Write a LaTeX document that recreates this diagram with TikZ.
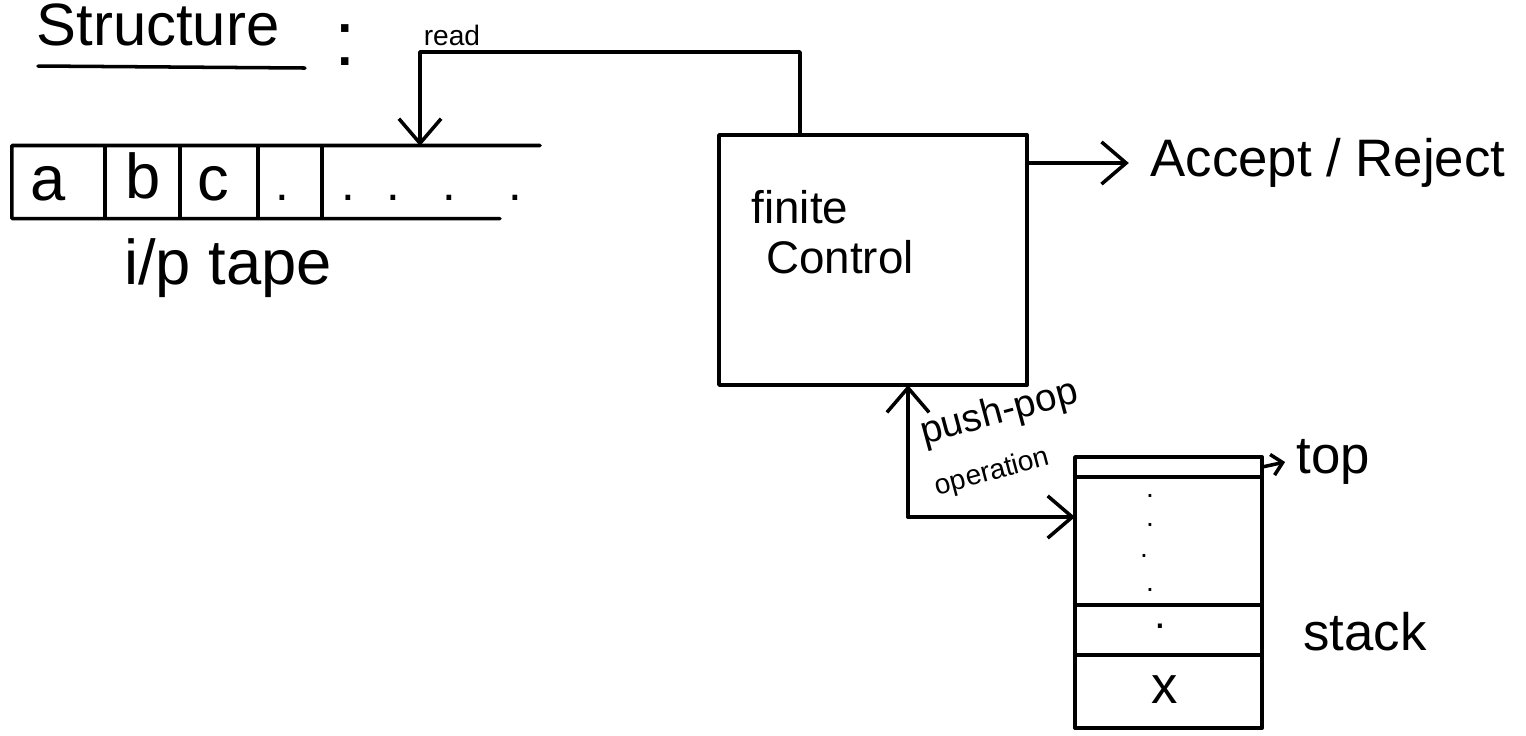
\documentclass[tikz,border=0pt]{standalone}
\usepackage{fontspec}
\setmainfont{Liberation Sans}
\usetikzlibrary{arrows.meta}
\tikzset{
  ln/.style={line width=1pt, line cap=round, line join=round},
  arr/.style={ln, -{Straight Barb[length=7pt,width=12pt,line width=1pt]}},
  sarr/.style={ln, -{Straight Barb[length=3pt,width=6pt,line width=1pt]}},
  box/.style={ln, draw, rectangle, inner sep=0pt, outer sep=0pt},
  lbl/.style={inner sep=0pt, font=\fontsize{#1}{#1}\selectfont},
  lbl/.default=14,
}
\begin{document}
\begin{tikzpicture}[x=0.01cm,y=-0.01cm]
\useasboundingbox (0,0) rectangle (1526,735);
% title
\node[lbl=17, anchor=base] (title) at (158,45) {Structure};
\node[lbl=22] (colon) at (345,45) {:};
\draw[ln] (38,66) -- (305,68);
% tape
\node[inner sep=0pt, outer sep=0pt, minimum width=5.28cm, minimum height=0.73cm] (tape) at (276,182) {};
\draw[ln] (tape.north east) -- (tape.north west) -- (tape.south west) -- (500,218.5);
\foreach \x in {105,180,258,322}{ \draw[ln] (\x,146) -- (\x,218); }
\node[lbl=18, anchor=base] (ca) at (48,200) {a};
\node[lbl=18, anchor=base] (cb) at (143,198) {b};
\node[lbl=18, anchor=base] (cc) at (213,200) {c};
\node[lbl=14, anchor=base] (cd) at (282,200) {.};
\node[lbl=14, anchor=base] (ce) at (432,200) {.\hspace{9pt}.\hspace{12pt}.\hspace{15pt}.};
\node[lbl=18] (tapelbl) at (228,268) {i/p tape};
\coordinate (readpt) at (420,146);
\node[lbl=8] (readlbl) at (452,35) {read};
% finite control
\node[box, minimum width=3.08cm, minimum height=2.5cm] (ctrl) at (873,260) {};
\node[lbl=13] (fin) at (800,207) {finite};
\node[lbl=13] (con) at (840,257) {Control};
\coordinate (rtop) at (800,52);
\draw[arr] (rtop |- ctrl.north) -- (rtop) -| (readpt);
% accept / reject
\node[lbl=15] (acc) at (1328,163) {Accept / Reject};
\draw[arr] (ctrl.east |- acc.west) -- ([xshift=-6pt]acc.west);
% stack
\node[box, minimum width=1.87cm, minimum height=0.2cm, anchor=north west] (s1) at (1075,457) {};
\node[box, minimum width=1.87cm, minimum height=1.28cm, anchor=north] (s2) at (s1.south) {};
\node[box, minimum width=1.87cm, minimum height=0.5cm, anchor=north] (s3) at (s2.south) {};
\node[box, minimum width=1.87cm, minimum height=0.73cm, anchor=north] (s4) at (s3.south) {};
\node[lbl=8] (d1) at (1150,496) {.};
\node[lbl=8] (d2) at (1150,525) {.};
\node[lbl=8] (d3) at (1144,556) {.};
\node[lbl=8] (d4) at (1150,590) {.};
\node[lbl=12] (s3t) at (1160,626) {.};
\node[lbl=15] (s4t) at (1165,690) {x};
\node[lbl=15] (toplbl) at (1333,462) {top};
\draw[sarr] (s1.east) -- ([xshift=-3pt]toplbl.west);
\node[lbl=15] (stacklbl) at (1365,632) {stack};
% push-pop
\coordinate (pp) at (908,517);
\draw[arr] (pp) -- (pp |- ctrl.south);
\draw[arr] (pp) -- (pp -| s2.west);
\node[inner sep=0pt, rotate=15, align=left] (pushlbl) at (1006,438)
  {\fontsize{11}{13}\selectfont push-pop\\[3pt]\fontsize{8}{9}\selectfont operation};
\end{tikzpicture}
\end{document}
